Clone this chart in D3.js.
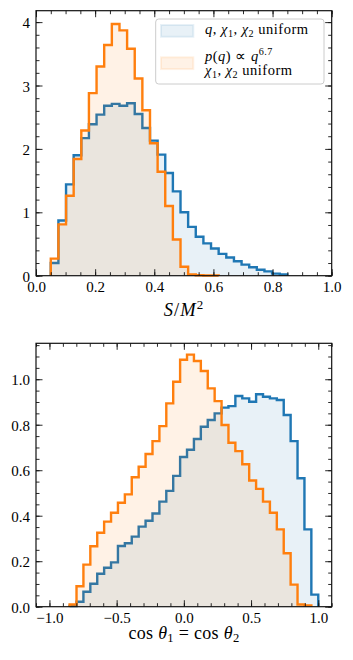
<!DOCTYPE html>
<html><head><meta charset="utf-8">
<script src="https://cdn.jsdelivr.net/npm/d3@7"></script>
<style>
body{margin:0;background:#fff;}
svg{display:block;font-family:"Liberation Serif","Times New Roman",serif;}
</style></head><body>
<svg id="c" width="353" height="660"></svg>
<script>
// ---------- data ----------
const sEdges = [0.0500,0.0758,0.1016,0.1274,0.1532,0.1790,0.2048,0.2306,0.2565,0.2823,0.3081,0.3339,0.3597,0.3855,0.4113,0.4371,0.4629,0.4887,0.5145,0.5403,0.5661,0.5919,0.6177,0.6435,0.6694,0.6952,0.7210,0.7468,0.7726,0.7984,0.8242,0.8500];
const sUniform = [0.20,0.87,1.44,1.90,2.17,2.39,2.54,2.68,2.71,2.68,2.72,2.55,2.33,2.13,1.91,1.62,1.33,1.00,0.77,0.615,0.51,0.43,0.345,0.287,0.228,0.174,0.134,0.095,0.068,0.032,0.02];
const sPowerLaw = [0.27,0.81,1.26,1.84,2.29,2.88,3.30,3.64,3.97,3.87,3.58,3.11,2.61,2.09,1.64,1.10,0.57,0.14,0.02,0.006,0.004,0.003];
const cosEdges = [-0.8500,-0.7986,-0.7472,-0.6958,-0.6444,-0.5931,-0.5417,-0.4903,-0.4389,-0.3875,-0.3361,-0.2847,-0.2333,-0.1819,-0.1306,-0.0792,-0.0278,0.0236,0.0750,0.1264,0.1778,0.2292,0.2806,0.3319,0.3833,0.4347,0.4861,0.5375,0.5889,0.6403,0.6917,0.7431,0.7944,0.8458,0.8972,0.9486,1.0000];
const cosUniform = [0.003,0.022,0.066,0.101,0.145,0.171,0.195,0.267,0.279,0.308,0.352,0.378,0.41,0.462,0.509,0.575,0.658,0.69,0.737,0.791,0.821,0.85,0.875,0.882,0.926,0.916,0.901,0.934,0.923,0.916,0.909,0.843,0.728,0.565,0.34,0.053];
const cosPowerLaw = [0.01,0.09,0.185,0.266,0.325,0.374,0.413,0.457,0.494,0.569,0.615,0.671,0.728,0.794,0.894,0.989,1.086,1.108,1.08,1.036,0.96,0.904,0.799,0.721,0.684,0.626,0.555,0.518,0.462,0.413,0.34,0.235,0.097,0.01,0.006];
const sTicks = [0,0.2,0.4,0.6,0.8,1.0];
const sDensityTicks = [0,1,2,3,4];
const cosTicks = [-1,-0.5,0,0.5,1];
const cosDensityTicks = [0,0.2,0.4,0.6,0.8,1.0];

const C0 = "#1f77b4", C1 = "#ff7f0e";
const svg = d3.select("#c");

function stepPath(edges, vals, x, y, close) {
  let a = 0, b = vals.length - 1;
  while (a < b && vals[a] === 0) a++;
  while (b > a && vals[b] === 0) b--;
  const pts = [[x(edges[a]), y(0)]];
  for (let i = a; i <= b; i++) {
    pts.push([x(edges[i]), y(vals[i])]);
    pts.push([x(edges[i + 1]), y(vals[i])]);
  }
  pts.push([x(edges[b + 1]), y(0)]);
  return d3.line()(pts) + (close ? "Z" : "");
}

function panel(o) {
  const x = d3.scaleLinear().domain(o.xDomain).range([o.left, o.right]);
  const y = d3.scaleLinear().domain(o.yDomain).range([o.bottom, o.top]);
  const g = svg.append("g");
  o.series.forEach(s => {
    g.append("path").attr("d", stepPath(s.edges, s.vals, x, y, true))
      .attr("fill", s.color).attr("fill-opacity", 0.1).attr("stroke", "none");
    g.append("path").attr("d", stepPath(s.edges, s.vals, x, y, false))
      .attr("fill", "none").attr("stroke", s.color).attr("stroke-width", 2.4)
      .attr("stroke-linejoin", "miter");
  });
  const xMinor = d3.range(o.xDomain[0], o.xDomain[1] + 1e-9, o.xMinorStep).map(v => +v.toFixed(4));
  const yMinor = d3.range(o.yDomain[0], o.yDomain[1] + 1e-9, o.yMinorStep).map(v => +v.toFixed(4));
  const mk = (axisFn, scale, vals, size, fmt, tr, pad) => {
    const ax = axisFn(scale).tickValues(vals).tickSizeInner(-size).tickSizeOuter(0).tickPadding(pad || 6);
    ax.tickFormat(fmt ? fmt : () => "");
    const ag = g.append("g").attr("transform", tr).call(ax);
    ag.select(".domain").remove();
    ag.selectAll("line").attr("stroke", "#111").attr("stroke-width", 0.9);
    ag.selectAll("text").attr("font-size", 15).attr("fill", "#000")
      .attr("font-family", '"Liberation Serif","Times New Roman",serif');
    if (!fmt) ag.selectAll("text").remove();
    return ag;
  };
  mk(d3.axisBottom, x, xMinor, 3.5, null, `translate(0,${o.bottom})`);
  mk(d3.axisTop, x, xMinor, 3.5, null, `translate(0,${o.top})`);
  mk(d3.axisLeft, y, yMinor, 3.5, null, `translate(${o.left},0)`);
  mk(d3.axisRight, y, yMinor, 3.5, null, `translate(${o.right},0)`);
  mk(d3.axisBottom, x, o.xMajor, 6.5, o.xFmt, `translate(0,${o.bottom})`, 6)
    .selectAll("text").attr("dy", "0.71em");
  mk(d3.axisTop, x, o.xMajor, 6.5, null, `translate(0,${o.top})`);
  mk(d3.axisLeft, y, o.yMajor, 6.5, o.yFmt, `translate(${o.left},0)`, 6)
    .selectAll("text").attr("dy", "0.37em");
  mk(d3.axisRight, y, o.yMajor, 6.5, null, `translate(${o.right},0)`);
  g.append("rect").attr("x", o.left).attr("y", o.top)
    .attr("width", o.right - o.left).attr("height", o.bottom - o.top)
    .attr("fill", "none").attr("stroke", "#111").attr("stroke-width", 1.2);
  return g;
}

function rich(t, parts, size) {
  parts.forEach(p => {
    const ts = t.append("tspan").text(p.t);
    if (p.i) ts.attr("font-style", "italic");
    if (p.sub) ts.attr("font-size", size * 0.7).attr("dy", size * 0.2);
    if (p.sup) ts.attr("font-size", size * 0.7).attr("dy", -size * 0.36);
    if (p.back) ts.attr("dy", p.back);
  });
}

// ---------- top panel ----------
panel({
  left: 36, right: 331.7, top: 10.7, bottom: 275.7,
  xDomain: [0, 1], yDomain: [0, 4.18],
  xMajor: sTicks, xMinorStep: 0.05, yMajor: sDensityTicks, yMinorStep: 0.2,
  xFmt: d3.format(".1f"), yFmt: d3.format("d"),
  series: [
    {edges: sEdges, vals: sUniform, color: C0},
    {edges: sEdges, vals: sPowerLaw, color: C1}
  ]
});
const xl1 = svg.append("text").attr("x", 184).attr("y", 316).attr("text-anchor", "middle")
  .attr("font-size", 18.5).attr("letter-spacing", 1);
rich(xl1, [{t: "S", i: 1}, {t: "/"}, {t: "M", i: 1}, {t: "2", sup: 1}], 18.5);

// legend
const lg = svg.append("g");
lg.append("rect").attr("x", 155.7).attr("y", 19).attr("width", 168.3).attr("height", 65)
  .attr("rx", 3).attr("fill", "#fff").attr("fill-opacity", 0.8)
  .attr("stroke", "#cccccc").attr("stroke-width", 1);
[[C0, 25], [C1, 57.3]].forEach(([c, yy]) => {
  lg.append("rect").attr("x", 161).attr("y", yy).attr("width", 32.3).attr("height", 11.8)
    .attr("fill", c).attr("fill-opacity", 0.1).attr("stroke", c).attr("stroke-opacity", 0.1)
    .attr("stroke-width", 2);
});
const LF = 14.5;
const lt1 = lg.append("text").attr("x", 205).attr("y", 34.3).attr("font-size", LF).attr("letter-spacing", 0.5);
rich(lt1, [{t: "q", i: 1}, {t: ", "}, {t: "χ", i: 1}, {t: "1", sub: 1}, {t: ", ", back: -LF * 0.2}, {t: "χ", i: 1}, {t: "2", sub: 1}, {t: " uniform", back: -LF * 0.2}], LF);
const lt2 = lg.append("text").attr("x", 205).attr("y", 60.6).attr("font-size", LF).attr("letter-spacing", 0.5);
rich(lt2, [{t: "p", i: 1}, {t: "("}, {t: "q", i: 1}, {t: ") ∝ "}, {t: "q", i: 1}, {t: "6.7", sup: 1}], LF);
const lt3 = lg.append("text").attr("x", 205).attr("y", 75.2).attr("font-size", LF).attr("letter-spacing", 0.5);
rich(lt3, [{t: "χ", i: 1}, {t: "1", sub: 1}, {t: ", ", back: -LF * 0.2}, {t: "χ", i: 1}, {t: "2", sub: 1}, {t: " uniform", back: -LF * 0.2}], LF);

// ---------- bottom panel ----------
panel({
  left: 36, right: 331.7, top: 343.3, bottom: 606.7,
  xDomain: [-1.1, 1.1], yDomain: [0, 1.158],
  xMajor: cosTicks, xMinorStep: 0.1, yMajor: cosDensityTicks, yMinorStep: 0.05,
  xFmt: d3.format(".1f"), yFmt: d3.format(".1f"),
  series: [
    {edges: cosEdges, vals: cosUniform, color: C0},
    {edges: cosEdges, vals: cosPowerLaw, color: C1}
  ]
});
const XF = 18;
const xl2 = svg.append("text").attr("x", 184).attr("y", 638.5).attr("text-anchor", "middle")
  .attr("font-size", XF).attr("letter-spacing", 0.3);
rich(xl2, [{t: "cos "}, {t: "θ", i: 1}, {t: "1", sub: 1}, {t: " = cos ", back: -XF * 0.2}, {t: "θ", i: 1}, {t: "2", sub: 1}], XF);
</script>
</body></html>
